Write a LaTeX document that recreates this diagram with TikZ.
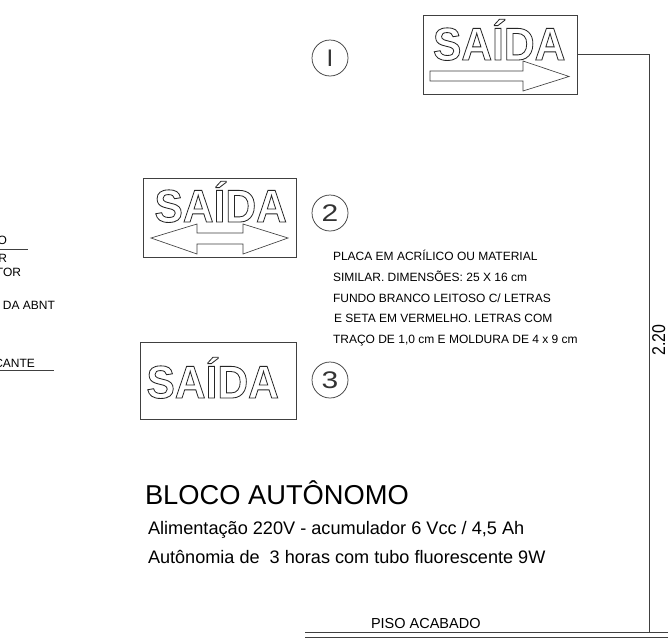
\documentclass[tikz,border=0pt]{standalone}
\usepackage{fontspec}
\setmainfont{Liberation Sans}
\newcommand{\outl}[1]{\special{pdf:code 1 Tr 0.85 w}#1\special{pdf:code 0 Tr 1 w}}
\newcommand{\fs}[1]{\fontsize{#1}{#1}\selectfont}
\newcommand{\saidaword}{\scalebox{0.925}[1]{\fs{46}\bfseries\outl{SAÍDA}}}
\tikzset{
 lin/.style={draw=black!75,line width=0.75pt},
 signbox/.style={lin,rectangle,inner sep=0,outer sep=0},
 txt/.style={inner sep=0,outer sep=0,anchor=base west,text=black},
 saida/.style={inner sep=0,outer sep=0,anchor=base west,text=black!85},
 num/.style={lin,circle,inner sep=0,minimum size=36pt,font=\fs{24}\color{black!80}},
}
\begin{document}
\begin{tikzpicture}[x=1pt,y=-1pt]
\useasboundingbox (0,0) rectangle (668,643);
\fill[white] (0,0) rectangle (668,643);
% signs
\node[signbox,minimum width=153.5pt,minimum height=78.5pt] (s1) at (500.25,54.75) {};
\node[signbox,minimum width=153.5pt,minimum height=79pt] (s2) at (219.75,217.5) {};
\node[signbox,minimum width=156pt,minimum height=77pt] (s3) at (218,380.5) {};
\node[saida] (t1) at (433,60) {\saidaword};
\node[saida] (t2) at (154.5,222) {\saidaword};
\node[saida] (t3) at (146.5,398) {\saidaword};
% arrows
\draw[lin,line width=0.65pt] (430,71)--(523,71)--(523,61)--(569,76.5)--(523,91)--(523,81)--(430,81)--cycle;
\draw[lin,line width=0.65pt] (151,238)--(197,224)--(197,233)--(243,233)--(243,224)--(288,238)--(243,254)--(243,244)--(197,244)--(197,254)--cycle;
% numbers
\node[num] (n1) at (330,58) {I};
\node[num] (n2) at (330,213) {\scalebox{1.25}[1]{2}};
\node[num] (n3) at (330,380) {\scalebox{1.25}[1]{3}};
% paragraph
\node[txt] (p1) at (333,260) {\fs{12}PLACA EM ACRÍLICO OU MATERIAL};
\node[txt] (p2) at (333,281) {\fs{12}SIMILAR. DIMENSÕES: 25 X 16 cm};
\node[txt] (p3) at (333,302) {\fs{12}FUNDO BRANCO LEITOSO C/ LETRAS};
\node[txt] (p4) at (334,322) {\fs{12}E SETA EM VERMELHO. LETRAS COM};
\node[txt] (p5) at (333,343) {\fs{12}TRAÇO DE 1,0 cm E MOLDURA DE 4 x 9 cm};
% title
\node[txt] (b0) at (145,504) {\fs{27.3}BLOCO AUTÔNOMO};
\node[txt] (b1) at (148,534) {\fs{18.15}Alimentação 220V - acumulador 6 Vcc / 4,5 Ah};
\node[txt] (b2) at (148,563) {\fs{18.1}Autônomia de\ \ 3 horas com tubo fluorescente 9W};
% left cut texts
\node[txt,anchor=base east] (l1) at (7,244) {\fs{12}O};
\node[txt,anchor=base east] (l2) at (7,262) {\fs{12}R};
\node[txt,anchor=base east] (l3) at (21,276) {\fs{12}TOR};
\node[txt,anchor=base east] (l4) at (55,309) {\fs{12}DA ABNT};
\node[txt,anchor=base east] (l5) at (35,367) {\fs{12}CANTE};
\coordinate (u1a) at (0,249); \coordinate (u1b) at (28,249);
\coordinate (u2a) at (0,370); \coordinate (u2b) at (54,370);
\draw[lin] (u1a)--(u1b);
\draw[lin] (u2a)--(u2b);
% dimension
\coordinate (top) at (649,54);
\coordinate (bot) at (649,632);
\draw[lin] (s1.east |- top)--(top)--(bot);
\node[txt,anchor=base,rotate=90] (dim) at (665,340) {\scalebox{0.86}[1]{\fs{18.5}2.20}};
% floor
\coordinate (f1a) at (305,632); \coordinate (f1b) at (668,632);
\coordinate (f2a) at (305,637); \coordinate (f2b) at (668,637);
\draw[lin] (f1a)--(f1b);
\draw[lin] (f2a)--(f2b);
\node[txt] (piso) at (371,628.5) {\fs{14.5}PISO ACABADO};
\end{tikzpicture}
\end{document}
